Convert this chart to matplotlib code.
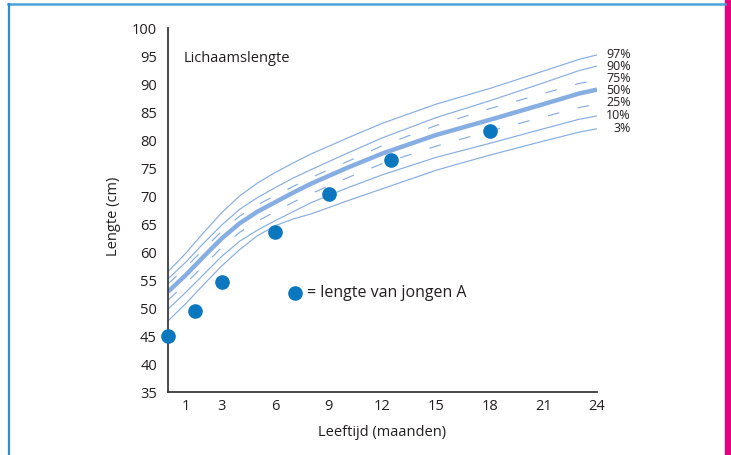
import matplotlib
matplotlib.use("Agg")
import matplotlib.pyplot as plt
from matplotlib.lines import Line2D
from matplotlib.patches import Rectangle

plt.rcParams['font.family'] = ['Open Sans', 'DejaVu Sans']

# ---- data ----
months = [0, 1, 2, 3, 4, 5, 6, 7, 8, 10, 12, 15, 18, 21, 23, 24]
p97 = [56.5, 59.8, 63.5, 67.0, 70.0, 72.3, 74.2, 75.9, 77.5, 80.3, 83.0, 86.4, 89.2, 92.3, 94.4, 95.2]
p90 = [55.2, 58.2, 61.6, 64.8, 67.6, 69.7, 71.5, 73.2, 74.7, 77.6, 80.4, 84.0, 87.0, 90.2, 92.4, 93.2]
p75 = [54.3, 57.3, 60.5, 63.7, 66.4, 68.4, 70.1, 71.7, 73.3, 76.1, 79.0, 82.6, 85.6, 88.3, 90.1, 90.7]
p50 = [52.9, 55.9, 59.2, 62.4, 65.1, 67.2, 68.9, 70.6, 72.2, 75.0, 77.6, 80.9, 83.6, 86.4, 88.3, 89.0]
p25 = [51.4, 54.4, 57.6, 60.8, 63.5, 65.5, 67.2, 68.9, 70.4, 73.2, 75.8, 78.9, 81.6, 84.1, 85.8, 86.4]
p10 = [49.8, 52.8, 56.0, 59.2, 61.9, 63.9, 65.6, 67.2, 68.8, 71.4, 73.8, 76.9, 79.4, 82.0, 83.7, 84.3]
p3 = [47.7, 50.8, 54.2, 57.5, 60.4, 62.9, 64.7, 65.9, 66.8, 69.1, 71.3, 74.6, 77.3, 79.8, 81.4, 82.0]

boy_months = [0, 1.5, 3, 6, 9, 12.5, 18]
boy_length = [45.0, 49.5, 54.7, 63.5, 70.4, 76.4, 81.6]

legend_x = 7.1
legend_y = 52.7

percent_labels = ['97%', '90%', '75%', '50%', '25%', '10%', '3%']
x_ticks = [1, 3, 6, 9, 12, 15, 18, 21, 24]
y_ticks = [35, 40, 45, 50, 55, 60, 65, 70, 75, 80, 85, 90, 95, 100]

# ---- layout ----
W, H = 731, 455
fig = plt.figure(figsize=(W / 100, H / 100), dpi=100)
ax = fig.add_axes([168 / W, 1 - 392 / H, (597 - 168) / W, (392 - 28) / H])

curve_col = '#86aee2'
text_col = '#231f20'
dot_col = '#0a77bf'

thin = 0.85
dash = (0, (10, 16))
ax.plot(months, p97, color=curve_col, lw=thin)
ax.plot(months, p90, color=curve_col, lw=thin)
ax.plot(months, p75, color=curve_col, lw=thin, linestyle=dash)
ax.plot(months, p50, color=curve_col, lw=3.2, solid_capstyle='butt')
ax.plot(months, p25, color=curve_col, lw=thin, linestyle=dash)
ax.plot(months, p10, color=curve_col, lw=thin)
ax.plot(months, p3, color=curve_col, lw=thin)

ax.plot(boy_months, boy_length, 'o', color=dot_col, ms=9.5, clip_on=False, zorder=5)
ax.plot([legend_x], [legend_y], 'o', color=dot_col, ms=9.5, zorder=5)
ax.text(legend_x + 0.65, legend_y, '= lengte van jongen A', fontsize=11.5,
        color=text_col, va='center', ha='left')

ax.text(0.85, 94.6, 'Lichaamslengte', fontsize=10.5, color=text_col, va='center', ha='left')

# percentile labels, stacked at the right end (pixel rows of the reference)
label_rows_px = [54.6, 67, 79, 91, 103, 115.5, 129]
for lab, row in zip(percent_labels, label_rows_px):
    fig.text(631 / W, 1 - row / H, lab, ha='right', va='center',
             fontsize=9, color=text_col)

ax.set_xlim(0, 24)
ax.set_ylim(35, 100)
ax.set_xticks(x_ticks)
ax.set_yticks(y_ticks)
ax.set_yticks([100], minor=True)
ax.tick_params(axis='both', which='major', length=0, labelsize=10.5, colors=text_col)
ax.tick_params(axis='y', which='major', pad=8)
ax.tick_params(axis='x', which='major', pad=5)
ax.tick_params(axis='y', which='minor', length=4, width=1.2, color='#3a3a3a')
for s in ['top', 'right']:
    ax.spines[s].set_visible(False)
for s in ['left', 'bottom']:
    ax.spines[s].set_color('#3a3a3a')
    ax.spines[s].set_linewidth(1.3)

ax.set_xlabel('Leeftijd (maanden)', fontsize=10.5, color=text_col, labelpad=8)
fig.text(113 / W, 1 - 216 / H, 'Lengte (cm)', rotation=90, fontsize=10.5,
         color=text_col, ha='center', va='center')

# frame
fig.add_artist(Line2D([8 / W, 725 / W], [1 - 4 / H, 1 - 4 / H], color='#4aa3d8', lw=1.8))
fig.add_artist(Line2D([9 / W, 9 / W], [0, 1 - 4 / H], color='#2b8fd6', lw=1.6))
fig.add_artist(Rectangle((725 / W, 0), 6 / W, 1, color='#e6007e', transform=fig.transFigure))

fig.savefig('out.png', dpi=100)
